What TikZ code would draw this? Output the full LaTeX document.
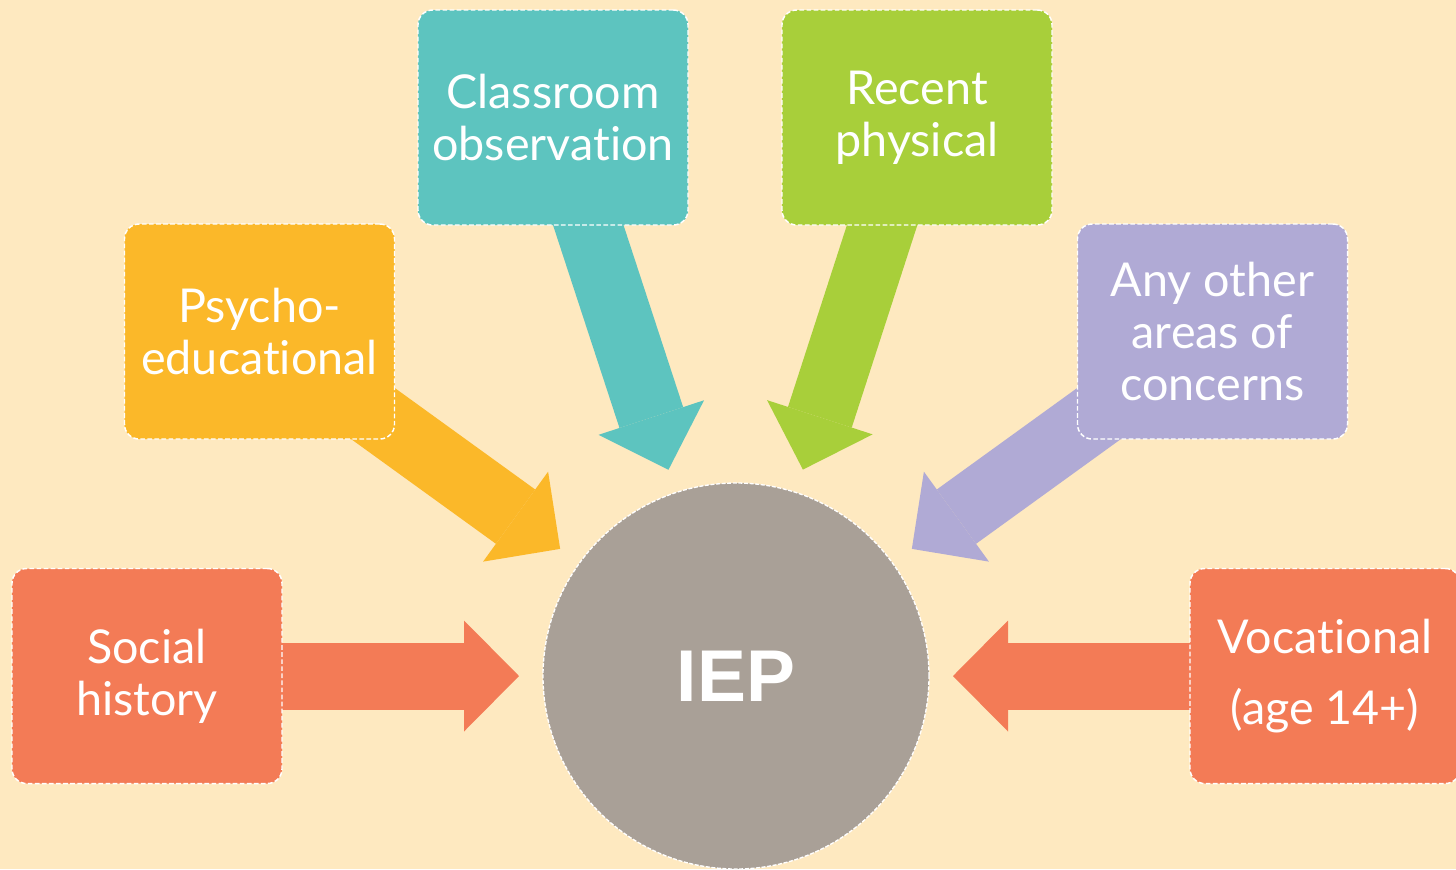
\documentclass[tikz,border=0pt]{standalone}
\usepackage{fontspec}
\setmainfont{Lato}[Ligatures=NoCommon]
\newfontfamily\iepfont{Liberation Sans}
\usetikzlibrary{arrows.meta}

\definecolor{peach}{HTML}{FEE9C0}
\definecolor{coral}{HTML}{F37B56}
\definecolor{amber}{HTML}{FBB829}
\definecolor{teal}{HTML}{5DC4BF}
\definecolor{lime}{HTML}{A8CF3A}
\definecolor{lilac}{HTML}{B0AAD5}
\definecolor{stone}{HTML}{A9A097}

\pgfdeclarelayer{back}
\pgfdeclarelayer{arrowlayer}
\pgfsetlayers{back,arrowlayer,main}

\tikzset{
  box/.style={rounded corners=11pt, draw=white, line width=1.1pt, dash pattern=on 3.5pt off 1.8pt,
    minimum width=202.5pt, minimum height=161.25pt, inner sep=0pt, align=center,
    text=white, font=\fontsize{35}{39}\selectfont},
  feed/.style={line width=50.25pt, -{Triangle[length=41.25pt,width=83.25pt,line width=0pt]}},
}

\begin{document}
\begin{tikzpicture}[x=0.75pt,y=0.75pt,yscale=-1,xscale=1]
\useasboundingbox (0,0) rectangle (1456,869);

%Shape: Background
\begin{pgfonlayer}{back}
\fill [peach] (0,0) rectangle (1456,869);
\end{pgfonlayer}

%Shape: Circle
\node (iep) [circle, fill=stone, draw=white, line width=1pt, dash pattern=on 3pt off 1.2pt,
  minimum size=289.5pt, inner sep=0pt, outer sep=18pt, text=white,
  font=\iepfont\bfseries\fontsize{55}{60}\selectfont] at (736,676) {IEP};

%Shape: Rounded Rect
\node (soc) [box, fill=coral] at (147,676) {Social\\history};
\node (psy) [box, fill=amber] at (259.5,331.5) {Psycho-\\educational};
\node (cls) [box, fill=teal] at (553,117.5) {Classroom\\observation};
\node (rec) [box, fill=lime] at (917,117.5) {Recent\\physical};
\node (any) [box, fill=lilac] at (1212.5,331.5) {Any other\\areas of\\concerns};
\node (voc) [box, fill=coral] at (1325,676) {Vocational\\[14pt](age 14+)};

%Block Arrows
\begin{pgfonlayer}{arrowlayer}
\draw [feed, coral] (soc.center) -- (iep);
\draw [feed, amber] (psy.center) -- (iep);
\draw [feed, teal] (cls.center) -- (iep);
\draw [feed, lime] (rec.center) -- (iep);
\draw [feed, lilac] (any.center) -- (iep);
\draw [feed, coral] (voc.center) -- (iep);
\end{pgfonlayer}

\end{tikzpicture}
\end{document}
